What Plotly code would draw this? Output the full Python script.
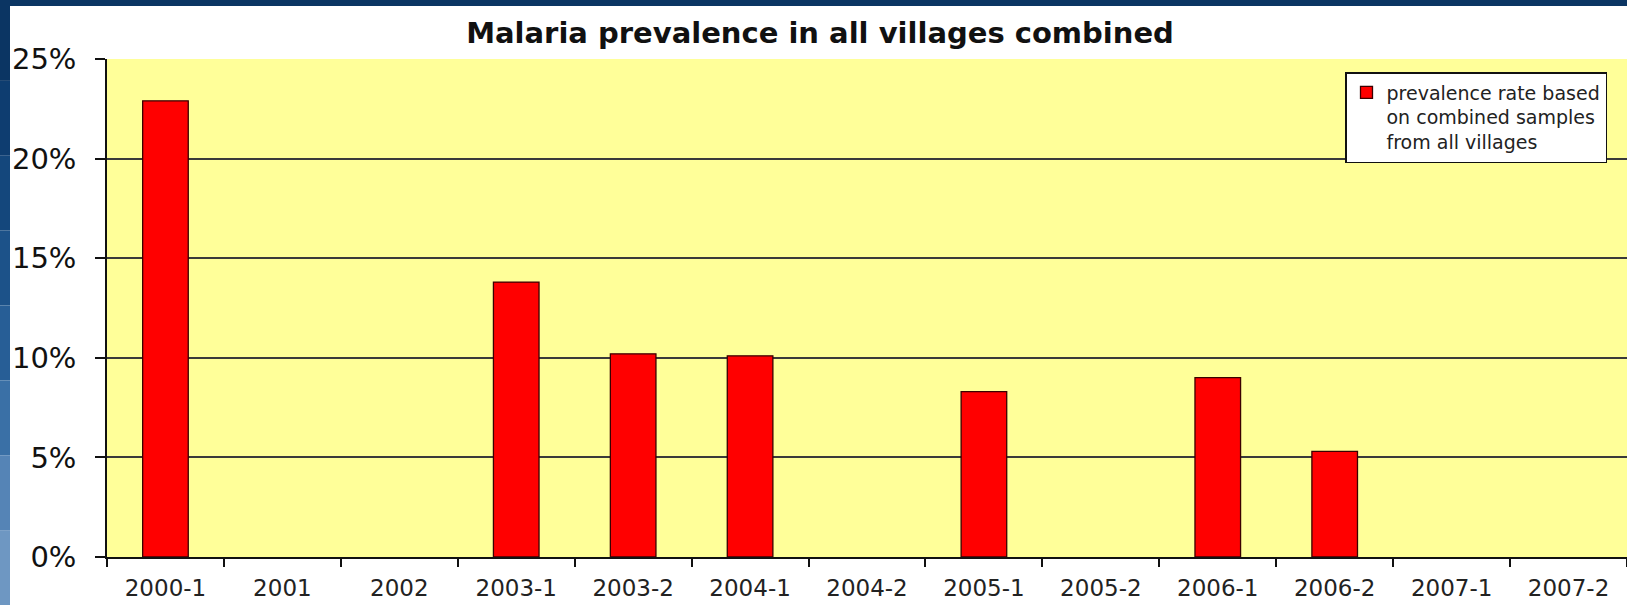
import plotly.graph_objects as go

categories = ["2000-1", "2001", "2002", "2003-1", "2003-2", "2004-1", "2004-2",
              "2005-1", "2005-2", "2006-1", "2006-2", "2007-1", "2007-2"]
prevalence = [22.9, None, None, 13.8, 10.2, 10.1, None, 8.3, None, 9.0, 5.3, None, None]
y_ticks = [0, 5, 10, 15, 20, 25]
y_tick_labels = ["0%", "5%", "10%", "15%", "20%", "25%"]
title_text = "Malaria prevalence in all villages combined"
legend_text = "prevalence rate based<br>on combined samples<br>from all villages"

W, H = 1627, 605
L, R, T, B = 107, 0, 59, 48
pw, ph = W - L - R, H - T - B

def px_x(p):
    return (p - L) / pw

def px_y(p):
    return (H - B - p) / ph

fig = go.Figure()
fig.add_trace(go.Bar(
    x=categories, y=prevalence, name=legend_text, width=0.39,
    marker=dict(color="#FF0000", line=dict(color="#3a0000", width=1.3)),
))

shapes = []
# top dark strip
shapes.append(dict(type="rect", xref="paper", yref="paper", layer="above",
                   x0=px_x(0), x1=px_x(W), y0=px_y(6), y1=px_y(0),
                   fillcolor="#0b3563", line=dict(width=0)))
# left gradient strip
left_cols = ["#0b3563", "#0e3d70", "#14477c", "#1c5289", "#275e96", "#3a70a6", "#5584b6", "#6e97c2"]
n = len(left_cols)
for i, c in enumerate(left_cols):
    shapes.append(dict(type="rect", xref="paper", yref="paper", layer="above",
                       x0=px_x(0), x1=px_x(10),
                       y0=px_y(6 + (H - 6) * (i + 1) / n), y1=px_y(6 + (H - 6) * i / n),
                       fillcolor=c, line=dict(width=0)))

fig.update_layout(
    width=W, height=H,
    margin=dict(l=L, r=R, t=T, b=B),
    paper_bgcolor="white",
    plot_bgcolor="#FFFF99",
    font=dict(family="DejaVu Sans", color="#111111"),
    title=dict(text=title_text, xref="container", x=0.504, xanchor="center",
               yref="container", y=1 - 33 / H, yanchor="middle",
               font=dict(size=29, family="DejaVu Sans", weight=700, color="#111111")),
    showlegend=True,
    legend=dict(x=px_x(1345), xanchor="left", y=px_y(72), yanchor="top",
                bgcolor="white", bordercolor="#111111", borderwidth=1.5,
                font=dict(size=19, family="DejaVu Sans", color="#222222"),
                itemwidth=30, tracegroupgap=0, valign="top"),
    bargap=0.61,
    shapes=shapes,
)

fig.update_xaxes(
    type="category", categoryorder="array", categoryarray=categories,
    showline=True, linecolor="#111111", linewidth=2,
    ticks="outside", tickson="boundaries", ticklen=8, tickcolor="#111111", tickwidth=1.5,
    tickfont=dict(size=23, family="DejaVu Sans", color="#222222"),
    ticklabelstandoff=9,
    showgrid=False, mirror=False,
)
fig.update_yaxes(
    range=[0, 25], tickvals=y_ticks, ticktext=y_tick_labels,
    showline=True, linecolor="#111111", linewidth=1.5,
    ticks="outside", ticklen=10, tickcolor="#111111", tickwidth=1.5,
    tickfont=dict(size=29, family="DejaVu Sans", color="#111111"),
    ticklabelstandoff=13,
    showgrid=True, gridcolor="#3a3a3a", gridwidth=1.5,
    zeroline=False,
)

fig.write_html("out.html", config={"displayModeBar": False},
               post_script="document.body.style.margin='0';document.body.style.overflow='hidden';")
